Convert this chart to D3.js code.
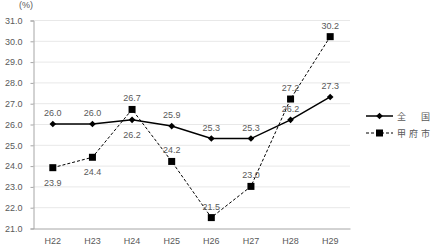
<!DOCTYPE html>
<html>
<head>
<meta charset="utf-8">
<script src="https://cdn.jsdelivr.net/npm/d3@7"></script>
<style>
  body { margin: 0; background: #fff; }
  text { font-family: "Liberation Sans", "Noto Sans CJK JP", sans-serif; fill: #595959; }
</style>
</head>
<body>
<div id="chart"></div>
<script>
var years = ["H22", "H23", "H24", "H25", "H26", "H27", "H28", "H29"];
var zenkoku = [26.0, 26.0, 26.2, 25.9, 25.3, 25.3, 26.2, 27.3];
var kofu = [23.9, 24.4, 26.7, 24.2, 21.5, 23.0, 27.2, 30.2];
var yTicks = [21, 22, 23, 24, 25, 26, 27, 28, 29, 30, 31];
// label above (-1) or below (1) each point
var zenkokuPos = [-1, -1, 1, -1, -1, -1, -1, -1];
var kofuPos = [1, 1, -1, -1, -1, -1, -1, -1];

var width = 437, height = 252;
var margin = {left: 33, right: 87, top: 20, bottom: 24};

var svg = d3.select("#chart").append("svg")
    .attr("width", width)
    .attr("height", height);

var x = d3.scaleBand()
    .domain(years)
    .range([margin.left, width - margin.right]);

var y = d3.scaleLinear()
    .domain([21, 31])
    .range([height - margin.bottom, margin.top]);

// grid
svg.append("g").selectAll("line")
    .data(yTicks.slice(1))
    .enter().append("line")
    .attr("x1", margin.left)
    .attr("x2", width - margin.right)
    .attr("y1", function (d) { return y(d) + 0.5; })
    .attr("y2", function (d) { return y(d) + 0.5; })
    .attr("stroke", "#e8e8e8");

var yAxis = svg.append("g")
    .attr("transform", "translate(" + (margin.left + 0.5) + ",0.5)")
    .call(d3.axisLeft(y).tickValues(yTicks).tickFormat(d3.format(".1f")).tickSize(3).tickPadding(8));
yAxis.select(".domain").attr("stroke", "#a6a6a6");
yAxis.selectAll(".tick line").attr("stroke", "#a6a6a6");
yAxis.selectAll("text").attr("font-size", "9px").attr("fill", "#595959");

var xAxis = svg.append("g")
    .attr("transform", "translate(0," + (y(21) + 0.5) + ")")
    .call(d3.axisBottom(x).tickSize(0).tickPadding(9));
xAxis.select(".domain").attr("stroke", "#a6a6a6");
xAxis.selectAll("text").attr("font-size", "9px").attr("fill", "#595959");

svg.append("text")
    .attr("x", 26)
    .attr("y", 8)
    .attr("text-anchor", "middle")
    .attr("font-size", "9px")
    .text("(%)");

var cx = function (d, i) { return x(years[i]) + x.bandwidth() / 2; };

var line = d3.line()
    .x(cx)
    .y(function (d) { return y(d); });

// 甲府市
svg.append("path")
    .datum(kofu)
    .attr("d", line)
    .attr("fill", "none")
    .attr("stroke", "#000")
    .attr("stroke-width", 1)
    .attr("stroke-dasharray", "3,2");

// 全国
svg.append("path")
    .datum(zenkoku)
    .attr("d", line)
    .attr("fill", "none")
    .attr("stroke", "#000")
    .attr("stroke-width", 1.5);

var diamond = d3.symbol().type(d3.symbolDiamond2).size(28);

svg.append("g").selectAll("path")
    .data(zenkoku)
    .enter().append("path")
    .attr("d", diamond)
    .attr("transform", function (d, i) { return "translate(" + cx(d, i) + "," + y(d) + ")"; })
    .attr("fill", "#000");

svg.append("g").selectAll("rect")
    .data(kofu)
    .enter().append("rect")
    .attr("x", function (d, i) { return cx(d, i) - 3.5; })
    .attr("y", function (d) { return y(d) - 3.5; })
    .attr("width", 7)
    .attr("height", 7)
    .attr("fill", "#000");

function labels(data, pos) {
    svg.append("g").selectAll("text")
        .data(data)
        .enter().append("text")
        .attr("x", cx)
        .attr("y", function (d, i) { return y(d) + (pos[i] < 0 ? -8 : 18); })
        .attr("text-anchor", "middle")
        .attr("font-size", "9px")
        .text(function (d) { return d.toFixed(1); });
}
labels(zenkoku, zenkokuPos);
labels(kofu, kofuPos);

// legend
var lg = svg.append("g").attr("transform", "translate(366,116)");
lg.append("line").attr("x1", 0).attr("x2", 27).attr("stroke", "#000").attr("stroke-width", 1.5);
lg.append("path").attr("d", diamond).attr("transform", "translate(13.5,0)");
lg.append("text").attr("x", 31).attr("y", 3.5).attr("font-size", "9px").attr("letter-spacing", "3px").text("全　国");

var lg2 = svg.append("g").attr("transform", "translate(366,133)");
lg2.append("line").attr("x1", 0).attr("x2", 27).attr("stroke", "#000").attr("stroke-dasharray", "3,2");
lg2.append("rect").attr("x", 10).attr("y", -3.5).attr("width", 7).attr("height", 7);
lg2.append("text").attr("x", 31).attr("y", 3.5).attr("font-size", "9px").attr("letter-spacing", "3px").text("甲府市");
</script>
</body>
</html>
